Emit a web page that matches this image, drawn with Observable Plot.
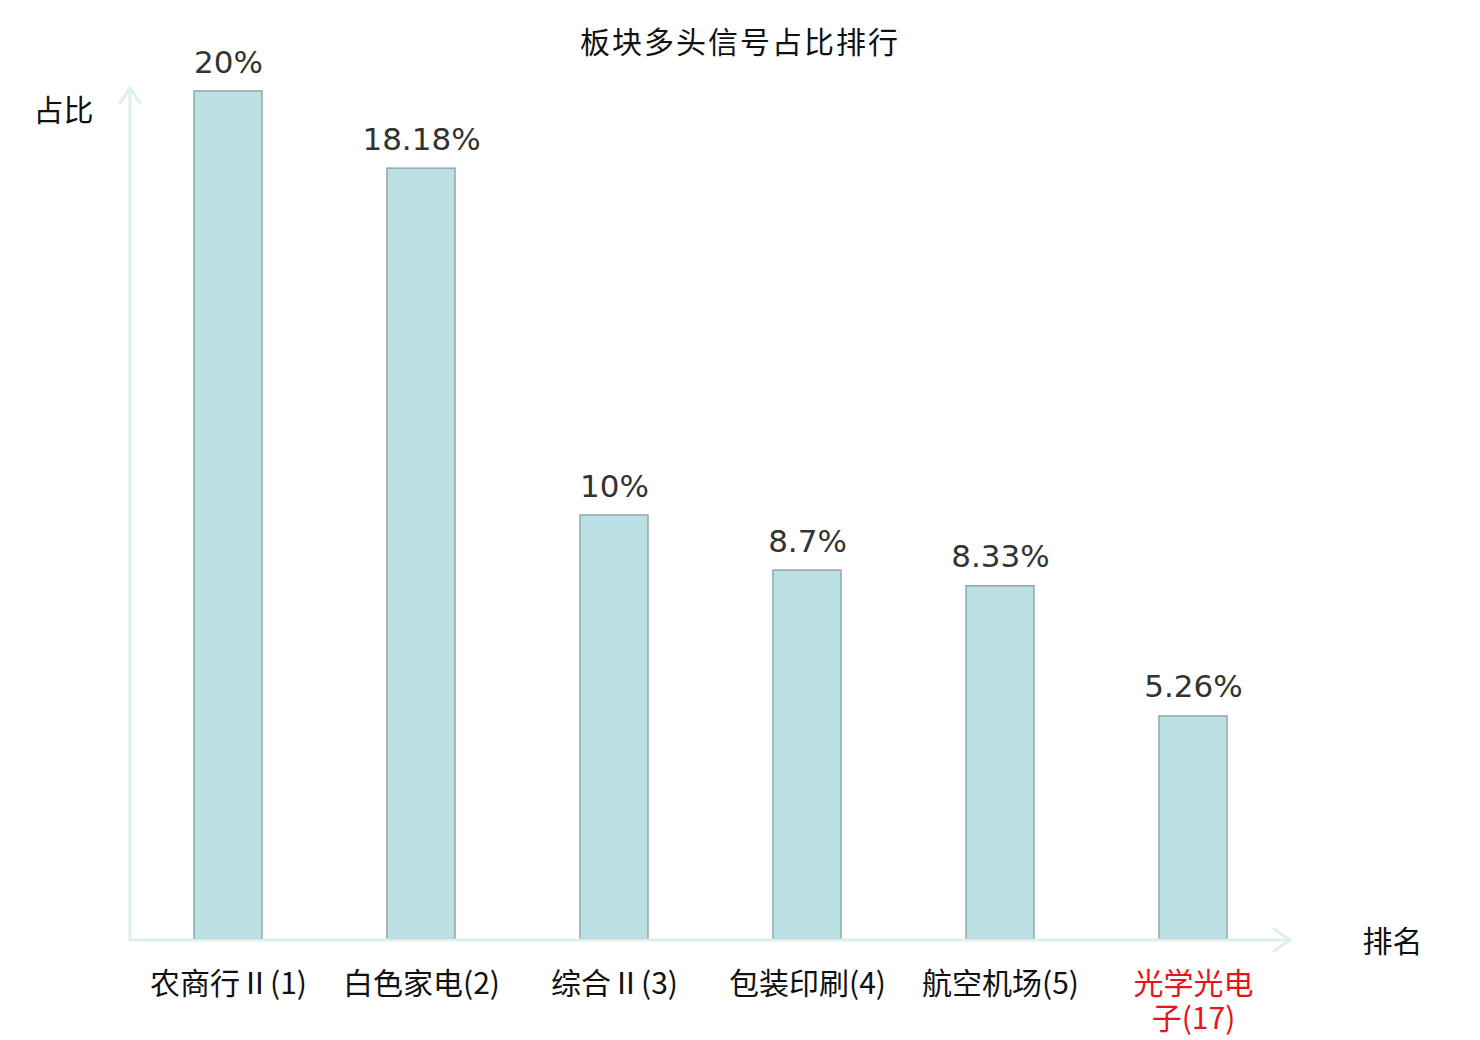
<!DOCTYPE html>
<html>
<head>
<meta charset="utf-8">
<script src="https://cdn.jsdelivr.net/npm/d3@7"></script>
<script src="https://cdn.jsdelivr.net/npm/@observablehq/plot@0.6"></script>
<style>
  html, body { margin: 0; padding: 0; background: #fff; }
  #wrap { position: relative; width: 1480px; height: 1040px; }
  #title { position: absolute; left: 0; top: 20px; width: 1480px; text-align: center;
    font: 30px "Noto Sans CJK SC", "Noto Sans", sans-serif; color: #111; line-height: 40px; letter-spacing: 2px; }
  #chart { position: absolute; left: 0; top: 0; }
</style>
</head>
<body>
<div id="wrap">
  <div id="chart"></div>
  <div id="title">板块多头信号占比排行</div>
</div>
<script>
const categories = ["农商行Ⅱ", "白色家电", "综合Ⅱ", "包装印刷", "航空机场", "光学光电子"];
const ranks = [1, 2, 3, 4, 5, 17];
const tickLabels = ["农商行Ⅱ(1)", "白色家电(2)", "综合Ⅱ(3)", "包装印刷(4)", "航空机场(5)", "光学光电\n子(17)"];
const shares = [20, 18.18, 10, 8.7, 8.33, 5.26];
const highlight = "光学光电子";
const yLabel = "占比";
const xLabel = "排名";

const data = categories.map((c, i) => ({category: c, label: tickLabels[i], rank: ranks[i], share: shares[i]}));

const axisColor = "#dcf1ed";

function axesArrows(index, scales, values, dims) {
  const g = d3.create("svg:g")
    .attr("fill", "none")
    .attr("stroke", axisColor)
    .attr("stroke-width", 3)
    .attr("stroke-linecap", "round")
    .attr("stroke-linejoin", "round");
  const y0 = scales.y(0) + 1;
  const xL = dims.marginLeft;
  const xR = dims.width - dims.marginRight;
  const yT = dims.marginTop - 3;
  g.append("path").attr("d", `M${xL},${y0}H${xR}M${xR - 16},${y0 - 11}L${xR},${y0}L${xR - 16},${y0 + 11}`);
  g.append("path").attr("d", `M${xL},${y0}V${yT}M${xL - 10},${yT + 15}L${xL},${yT}L${xL + 10},${yT + 15}`);
  return g.node();
}

const chart = Plot.plot({
  width: 1480,
  height: 1040,
  marginLeft: 130,
  marginRight: 190,
  marginTop: 91,
  marginBottom: 101,
  style: {background: "#fff", overflow: "visible"},
  x: {domain: tickLabels, range: [130, 1290], paddingInner: 0.648, paddingOuter: 0.324, axis: null},
  y: {domain: [0, 20], axis: null},
  marks: [
    Plot.barY(data, {x: "label", y: "share", fill: "#bce0e3", stroke: "#8fa8aa", strokeWidth: 1.5}),
    axesArrows,
    Plot.text(data, {x: "label", y: "share", text: d => `${d.share}%`, lineAnchor: "bottom", dy: -19,
      fontSize: 31, fontFamily: "DejaVu Sans", fill: "#333"}),
    Plot.text(data, {x: "label", y: () => 0, text: "label", lineAnchor: "top", dy: 30, lineHeight: 1.16,
      fontSize: 30, fontFamily: "Noto Sans CJK SC", fill: d => d.category === highlight ? "#e8141a" : "#111"}),
    Plot.text([yLabel], {frameAnchor: "top-left", dx: -67, dy: 8, text: d => d, textAnchor: "middle",
      fontSize: 30, fontFamily: "Noto Sans CJK SC", fill: "#111"}),
    Plot.text([xLabel], {frameAnchor: "bottom-right", dx: 102, dy: 12, text: d => d, textAnchor: "middle",
      fontSize: 30, fontFamily: "Noto Sans CJK SC", fill: "#111"})
  ]
});
document.getElementById("chart").appendChild(chart);
</script>
</body>
</html>
